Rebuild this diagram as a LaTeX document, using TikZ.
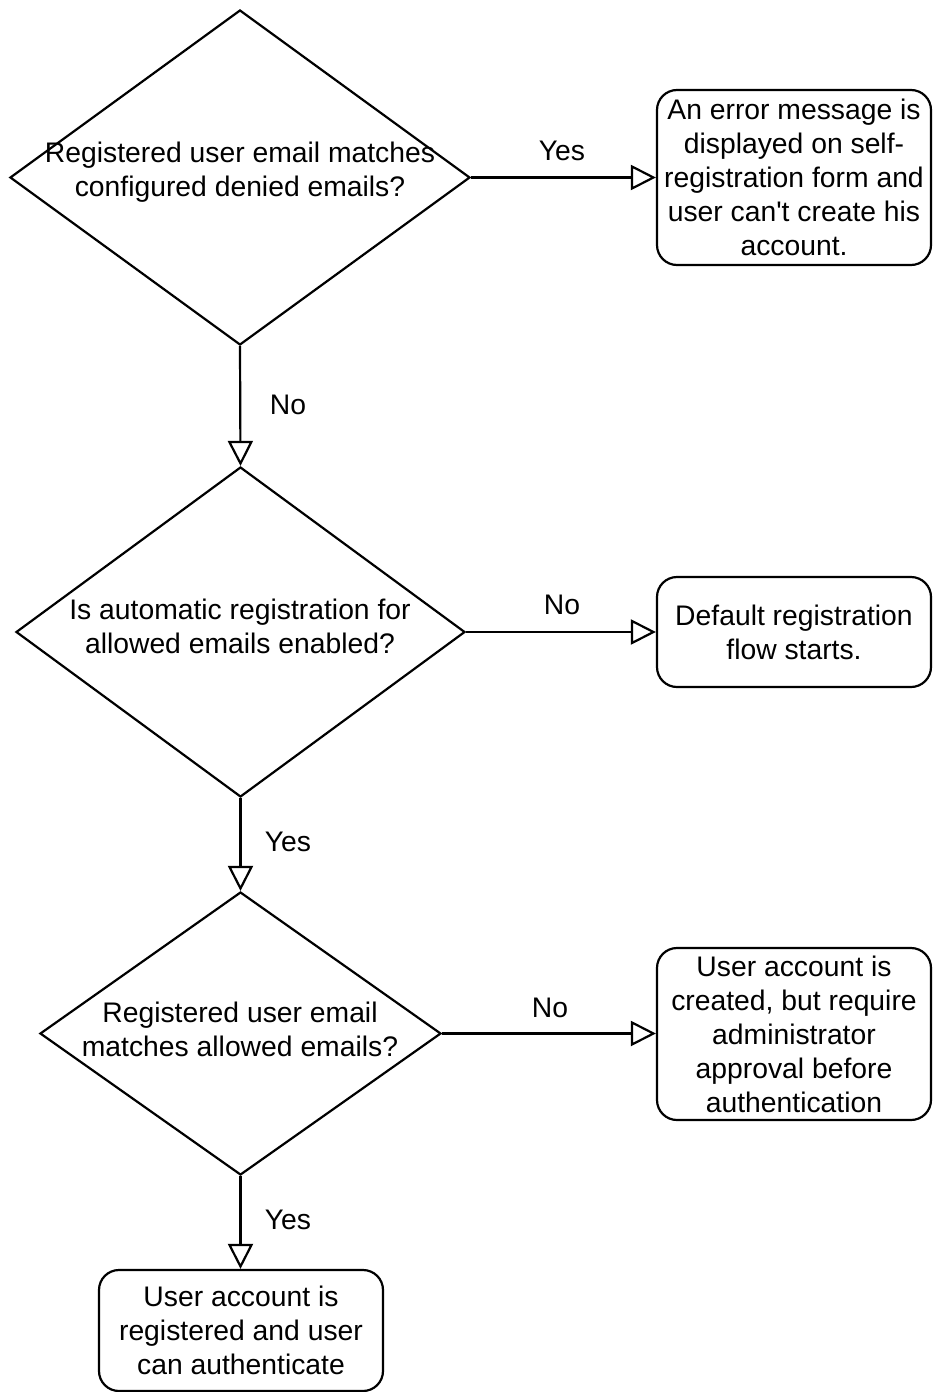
\documentclass[tikz,border=0pt]{standalone}
\usepackage{fontspec}
\setmainfont{Liberation Sans}
\usetikzlibrary{shapes.geometric,arrows.meta}
\begin{document}
\begin{tikzpicture}[x=0.5pt,y=-0.5pt,
  txt/.style={font=\fontsize{14.15pt}{17pt}\selectfont, align=center, inner sep=0pt},
  dec/.style={diamond, draw, line width=1.1pt, inner sep=0pt},
  box/.style={draw, rounded corners=10pt, line width=1.1pt, txt},
  arr/.style={-{Triangle[open,length=12.5pt,width=12.5pt]}, line width=1.1pt},
  lbl/.style={txt}]
\useasboundingbox (0,0) rectangle (932,1392);

% decisions
\node[dec, minimum width=230pt, minimum height=167.5pt] (d1) at (240,177.5) {};
\node[txt] (t1) at (240,172) {Registered user email matches\\configured denied emails?};
\node[dec, minimum width=224.5pt, minimum height=165pt] (d2) at (240.5,632) {};
\node[txt] (t2) at (240,626) {Is automatic registration for\\allowed emails enabled?};
\node[dec, minimum width=200.5pt, minimum height=141.5pt] (d3) at (240.5,1033.5) {};
\node[txt] (t3) at (240,1029) {Registered user email\\matches allowed emails?};

% outcome boxes
\node[box, minimum width=137pt, minimum height=87.5pt] (b1) at (794,177.5)
  {An error message is\\displayed on self-\\registration form and\\user can\textquotesingle t create his\\account.};
\node[box, minimum width=137pt, minimum height=55pt] (b2) at (794,632)
  {Default registration\\flow starts.};
\node[box, minimum width=137pt, minimum height=86pt] (b3) at (794,1034)
  {User account is\\created, but require\\administrator\\approval before\\authentication};
\node[box, minimum width=142pt, minimum height=60.5pt] (b4) at (241,1330.5)
  {User account is\\registered and user\\can authenticate};

% connectors
\draw[arr] (d1.east) -- (d1.east -| b1.west);
\draw[arr] (d1.south) -- (d2.north);
\draw[arr] (d2.east) -- (d2.east -| b2.west);
\draw[arr] (d2.south) -- (d3.north);
\draw[arr] (d3.east) -- (d3.east -| b3.west);
\draw[arr] (d3.south) -- (d3.south |- b4.north);

% labels
\node[lbl] (l1) at (562,151) {Yes};
\node[lbl] (l2) at (288,405) {No};
\node[lbl] (l3) at (562,605) {No};
\node[lbl] (l4) at (288,842) {Yes};
\node[lbl] (l5) at (550,1008) {No};
\node[lbl] (l6) at (288,1220) {Yes};
\end{tikzpicture}
\end{document}
